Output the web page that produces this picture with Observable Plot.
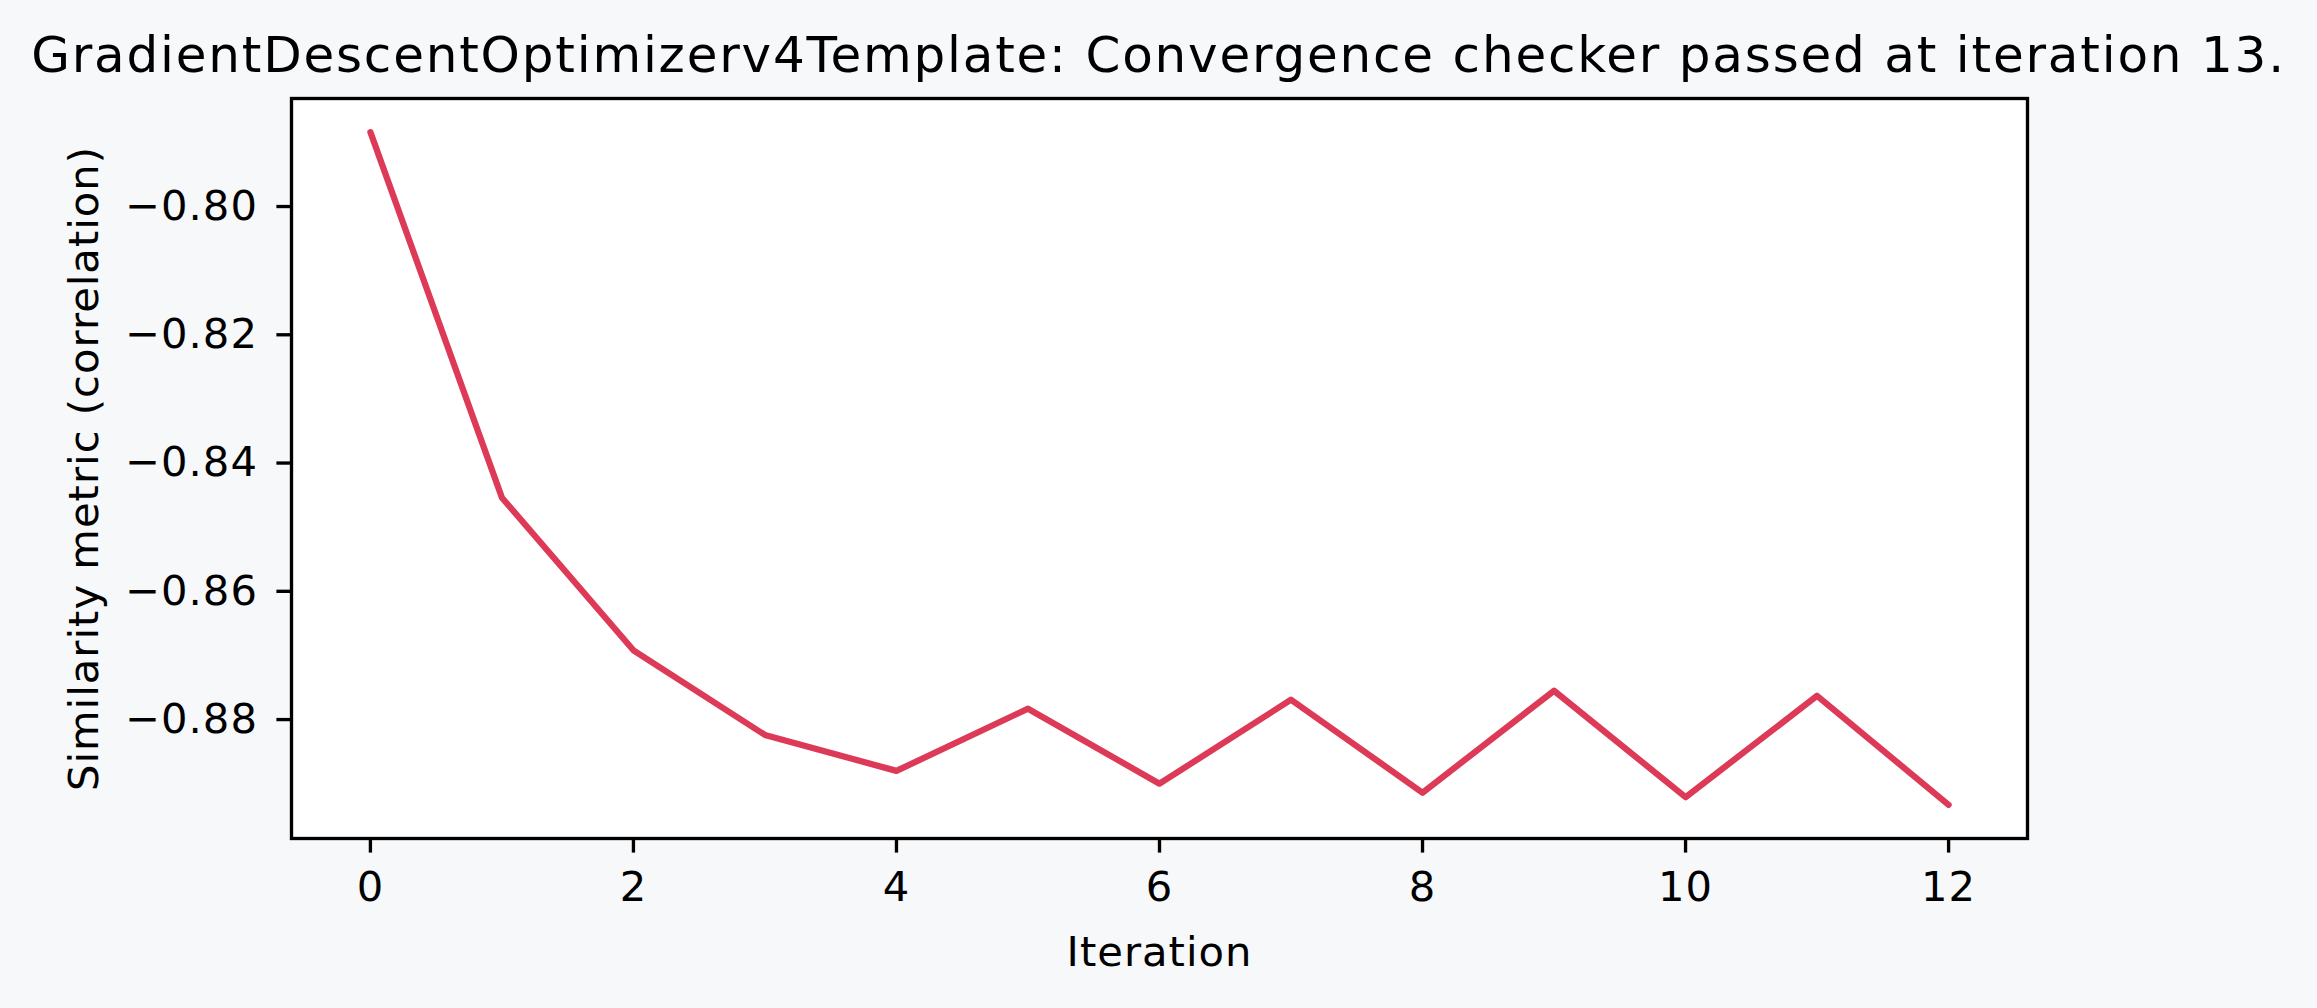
<!DOCTYPE html>
<html>
<head>
<meta charset="utf-8">
<script src="https://cdn.jsdelivr.net/npm/d3@7"></script>
<script src="https://cdn.jsdelivr.net/npm/@observablehq/plot@0.6"></script>
<style>
  html, body { margin: 0; padding: 0; background: #f7f8fa; }
  #wrap { width: 2317px; height: 1008px; position: relative; overflow: hidden; font-family: "DejaVu Sans", sans-serif; }
  #title { position: absolute; left: 0; top: 26px; width: 2317px; text-align: center; font-size: 50px; line-height: 58px; letter-spacing: 1.8px; color: #000; white-space: nowrap; z-index: 2; }
  #chart { position: absolute; left: 0; top: 0; z-index: 1; }
  #chart text { letter-spacing: 1px; }
</style>
</head>
<body>
<div id="wrap">
  <div id="title">GradientDescentOptimizerv4Template: Convergence checker passed at iteration 13.</div>
  <div id="chart"></div>
</div>
<script>
const iterations = [0, 1, 2, 3, 4, 5, 6, 7, 8, 9, 10, 11, 12];
const metricValues = [-0.7884, -0.8454, -0.8692, -0.8824, -0.8880, -0.8783, -0.8900, -0.8769, -0.8914, -0.8755, -0.8921, -0.8763, -0.8933];
const xTicks = [0, 2, 4, 6, 8, 10, 12];
const yTicks = [-0.80, -0.82, -0.84, -0.86, -0.88];
const xLabel = "Iteration";
const yLabel = "Similarity metric (correlation)";

const data = iterations.map((it, i) => ({iteration: it, value: metricValues[i]}));

// matplotlib-style 5% margins
const [xmin, xmax] = d3.extent(iterations);
const [ymin, ymax] = d3.extent(metricValues);
const xpad = (xmax - xmin) * 0.05;
const ypad = (ymax - ymin) * 0.05;

const W = 2317, H = 1008;
const plot = Plot.plot({
  width: W,
  height: H,
  marginLeft: 291,
  marginRight: 290,
  marginTop: 98,
  marginBottom: 170,
  style: {background: "transparent", fontFamily: "DejaVu Sans, sans-serif", fontSize: "41.7px", color: "#000"},
  x: {domain: [xmin - xpad, xmax + xpad]},
  y: {domain: [ymin - ypad, ymax + ypad]},
  marks: [
    Plot.frame({fill: "#ffffff", stroke: null}),
    Plot.line(data, {x: "iteration", y: "value", stroke: "#dc3a56", strokeWidth: 6.25}),
    Plot.frame({stroke: "#000", strokeWidth: 3.33}),
    Plot.axisX({ticks: xTicks, tickSize: 14.6, tickPadding: 18, strokeWidth: 3.33, tickFormat: d => String(d), label: null, fontSize: 41.7}),
    Plot.axisY({ticks: yTicks, tickSize: 14.6, tickPadding: 19, strokeWidth: 3.33, tickFormat: d3.format(".2f"), label: null, fontSize: 41.7}),
    Plot.text([xLabel], {frameAnchor: "bottom", text: d => d, textAnchor: "middle", lineAnchor: "bottom", dy: 127, fontSize: 41.7, fill: "#000"}),
    Plot.text([yLabel], {frameAnchor: "left", text: d => d, rotate: -90, textAnchor: "middle", lineAnchor: "bottom", dx: -194, fontSize: 41.7, fill: "#000"})
  ]
});
document.getElementById("chart").appendChild(plot);
</script>
</body>
</html>
